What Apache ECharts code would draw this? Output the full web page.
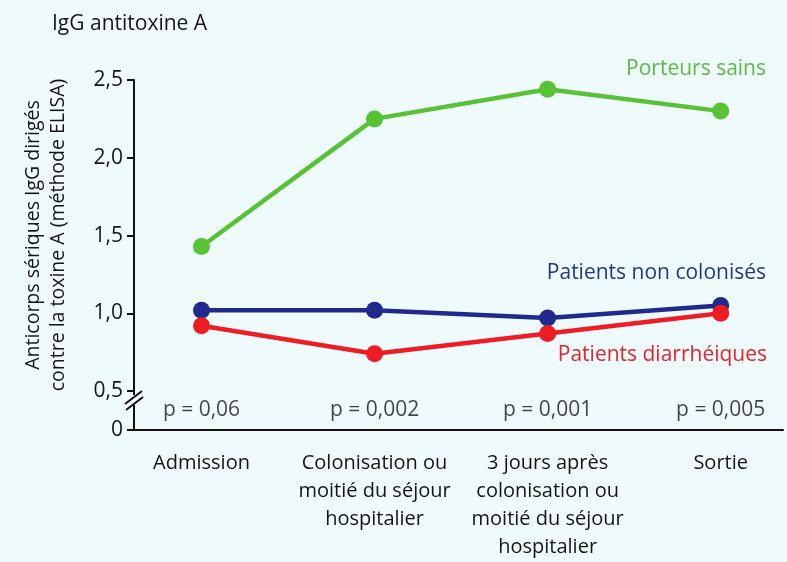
<!DOCTYPE html>
<html>
<head>
<meta charset="utf-8">
<script src="https://cdn.jsdelivr.net/npm/echarts@6/dist/echarts.min.js"></script>
<style>
  html, body { margin: 0; padding: 0; background: #eefafb; }
  #chart { width: 787px; height: 562px; }
</style>
</head>
<body>
<div id="chart"></div>
<script>
// categories along the x axis
var categories = ['Admission', 'Colonisation ou\nmoitié du séjour\nhospitalier', '3 jours après\ncolonisation ou\nmoitié du séjour\nhospitalier', 'Sortie'];
// mean IgG antitoxin A (ELISA) per group
var porteursSains = [1.43, 2.25, 2.44, 2.30];
var nonColonises = [1.02, 1.02, 0.97, 1.05];
var diarrheiques = [0.92, 0.74, 0.87, 1.00];
// p values under each time point
var pValues = ['p = 0,06', 'p = 0,002', 'p = 0,001', 'p = 0,005'];
// y tick labels (the lowest is the broken zero)
var yTicks = [0.25, 0.5, 1.0, 1.5, 2.0, 2.5];
var yTickLabels = ['0', '0,5', '1,0', '1,5', '2,0', '2,5'];

var FONT = '"Open Sans", sans-serif';
var TXT = '#161616';
var pRow = 0.38;

function pairs(arr) {
  return arr.map(function (v, i) { return [i, v]; });
}

var chart = echarts.init(document.getElementById('chart'));

function lineSeries(name, data, color) {
  return {
    name: name,
    type: 'line',
    data: pairs(data),
    symbol: 'circle',
    symbolSize: 17,
    lineStyle: { color: color, width: 4.5 },
    itemStyle: { color: color },
    z: 3
  };
}

var option = {
  backgroundColor: '#eefafb',
  animation: false,
  textStyle: { fontFamily: FONT },
  grid: { left: 134, right: 4, top: 80, bottom: 132 },
  xAxis: {
    type: 'value',
    min: -0.39,
    max: 3.36,
    splitLine: { show: false },
    axisTick: { show: false },
    axisLine: { show: true, onZero: false, lineStyle: { color: '#111', width: 2 } },
    axisLabel: {
      customValues: [0, 1, 2, 3],
      formatter: function (v) { return categories[Math.round(v)]; },
      color: TXT,
      fontSize: 20,
      lineHeight: 28,
      margin: 19,
      fontFamily: FONT,
      verticalAlign: 'top'
    }
  },
  yAxis: {
    type: 'value',
    min: 0.25,
    max: 2.5,
    splitLine: { show: false },
    axisLine: { show: true, onZero: false, lineStyle: { color: '#111', width: 2 } },
    axisTick: { show: true, customValues: yTicks, length: 7, lineStyle: { color: '#111', width: 2 } },
    axisLabel: {
      customValues: yTicks,
      formatter: function (v) {
        var i = yTicks.indexOf(Math.round(v * 100) / 100);
        return i >= 0 ? yTickLabels[i] : '';
      },
      color: TXT,
      fontSize: 21,
      margin: 11,
      fontFamily: FONT
    }
  },
  graphic: [
    { type: 'text', left: 52, top: 14, style: { text: 'IgG antitoxine A', fill: TXT, font: '21px ' + FONT } },
    { type: 'text', x: 46, y: 235, rotation: Math.PI / 2,
      style: { text: 'Anticorps sériques IgG dirigés\ncontre la toxine A (méthode ELISA)', fill: TXT,
        font: '19.5px ' + FONT, align: 'center', verticalAlign: 'middle', lineHeight: 25 } },
    { type: 'text', right: 21, top: 59, style: { text: 'Porteurs sains', fill: '#5cba45', font: '21px ' + FONT } },
    { type: 'text', right: 21, top: 263, style: { text: 'Patients non colonisés', fill: '#26358c', font: '21px ' + FONT } },
    { type: 'text', right: 20, top: 345, style: { text: 'Patients diarrhéiques', fill: '#e8232b', font: '21px ' + FONT } },
    // axis break mark
    { type: 'rect', shape: { x: 130, y: 395, width: 9, height: 10 }, style: { fill: '#eefafb' }, z: 10 },
    { type: 'line', shape: { x1: 125, y1: 404, x2: 142, y2: 391 }, style: { stroke: '#111', lineWidth: 2 }, z: 11 },
    { type: 'line', shape: { x1: 126, y1: 410, x2: 143, y2: 397 }, style: { stroke: '#111', lineWidth: 2 }, z: 11 }
  ],
  series: [
    lineSeries('Porteurs sains', porteursSains, '#56c234'),
    lineSeries('Patients non colonisés', nonColonises, '#1f2a8c'),
    lineSeries('Patients diarrhéiques', diarrheiques, '#f01c24'),
    {
      type: 'scatter',
      data: pValues.map(function (p, i) { return [i, pRow]; }),
      symbolSize: 0,
      silent: true,
      label: {
        show: true,
        position: 'inside',
        formatter: function (d) { return pValues[d.dataIndex]; },
        color: TXT,
        fontSize: 21,
        fontFamily: FONT
      }
    }
  ]
};

chart.setOption(option);
</script>
</body>
</html>
